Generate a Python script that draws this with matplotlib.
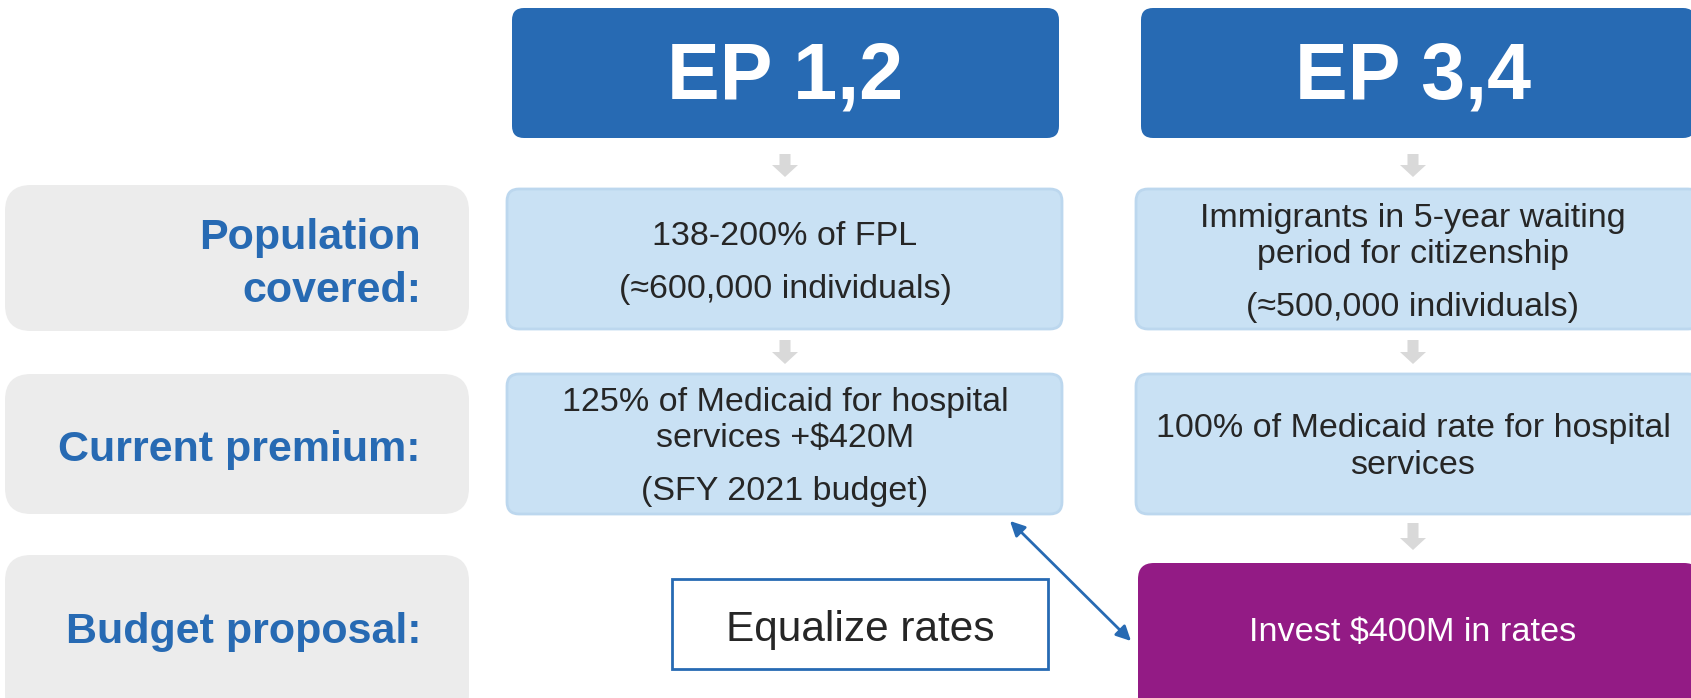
import matplotlib.pyplot as plt
import matplotlib.patches as mpatches

plt.rcParams['font.family'] = ['Liberation Sans', 'DejaVu Sans']

# diagram content
headers = ['EP 1,2', 'EP 3,4']
row_labels = [['Population', 'covered:'], ['Current premium:'], ['Budget proposal:']]
population = [
    [['138-200% of FPL'], ['(\u2248600,000 individuals)']],
    [['Immigrants in 5-year waiting', 'period for citizenship'], ['(\u2248500,000 individuals)']],
]
premium = [
    [['125% of Medicaid for hospital', 'services +$420M'], ['(SFY 2021 budget)']],
    [['100% of Medicaid rate for hospital', 'services']],
]
proposal = ['Equalize rates', 'Invest $400M in rates']

BLUE = '#276ab3'
LIGHT = '#c9e1f4'
LIGHT_EDGE = '#bcd7ee'
GRAY = '#ececec'
PURPLE = '#931b85'
TEXT = '#262626'

W, H = 1691, 698
fig = plt.figure(figsize=(W / 100, H / 100), dpi=100)
ax = fig.add_axes([0, 0, 1, 1])
ax.set_xlim(0, W)
ax.set_ylim(H, 0)
ax.axis('off')


def box(x0, y0, x1, y1, fc, ec='none', lw=0, r=12):
    p = mpatches.FancyBboxPatch((x0, y0), x1 - x0, y1 - y0,
                                boxstyle='round,pad=0,rounding_size=%d' % r,
                                fc=fc, ec=ec, lw=lw)
    ax.add_patch(p)


def paragraphs(cx, cy, paras, size=24.5, color=TEXT, step=36, gap=53):
    ys = []
    y = 0
    for i, para in enumerate(paras):
        if i > 0:
            y += gap - step
        for j, line in enumerate(para):
            if i > 0 or j > 0:
                y += step
            ys.append((y, line))
    off = cy - y / 2
    for yy, line in ys:
        ax.text(cx, yy + off, line, ha='center', va='center', fontsize=size, color=color)


def down_arrow(cx, y0, y1):
    a = mpatches.FancyArrow(cx, y0, 0, y1 - y0, width=11, head_width=26, head_length=12,
                            length_includes_head=True, fc='#d9d9d9', ec='none')
    ax.add_patch(a)


cols = [(512, 1059), (1141, 1695)]
col_cx = [785, 1413]

# headers
for (x0, x1), cx, h in zip(cols, col_cx, headers):
    box(x0, 8, x1, 138, BLUE, r=12)
    ax.text(cx, 78, h, ha='center', va='center', fontsize=57, fontweight='bold', color='white')

# row labels (gray boxes)
rows = [(185, 331), (374, 514), (555, 720)]
for (y0, y1), lab in zip(rows, row_labels):
    box(5, y0, 469, y1, GRAY, r=26)
    cy = (y0 + y1) / 2 + 6
    if H < y1:
        cy = (y0 + 698) / 2 + 6
    n = len(lab)
    for k, line in enumerate(lab):
        ax.text(421, cy + (k - (n - 1) / 2) * 53, line, ha='right', va='center',
                fontsize=31, fontweight='bold', color=BLUE)

# population + premium boxes
blue_cols = [(507, 1062), (1136, 1700)]
for (x0, x1), cx, pop, prem in zip(blue_cols, col_cx, population, premium):
    box(x0, 189, x1, 329, LIGHT, LIGHT_EDGE, 2, r=12)
    paragraphs(cx, 263, pop)
    box(x0, 374, x1, 514, LIGHT, LIGHT_EDGE, 2, r=12)
    paragraphs(cx, 447, prem)

# grey connectors
for cx in col_cx:
    down_arrow(cx, 154, 177)
    down_arrow(cx, 340, 364)
down_arrow(col_cx[1], 523, 550)

# proposals
ax.add_patch(mpatches.Rectangle((672, 579), 376, 90, fc='white', ec=BLUE, lw=2))
ax.text(860, 630, proposal[0], ha='center', va='center', fontsize=30.5, color=TEXT)
box(1138, 563, 1700, 720, PURPLE, r=16)
ax.text(1413, 633, proposal[1], ha='center', va='center', fontsize=24.7, color='white')

# double-headed link
ax.annotate('', xy=(1010, 521), xytext=(1131, 641),
            arrowprops=dict(arrowstyle='<|-|>', color=BLUE, lw=2, mutation_scale=22,
                            shrinkA=0, shrinkB=0))

fig.savefig('out.png', dpi=100)
